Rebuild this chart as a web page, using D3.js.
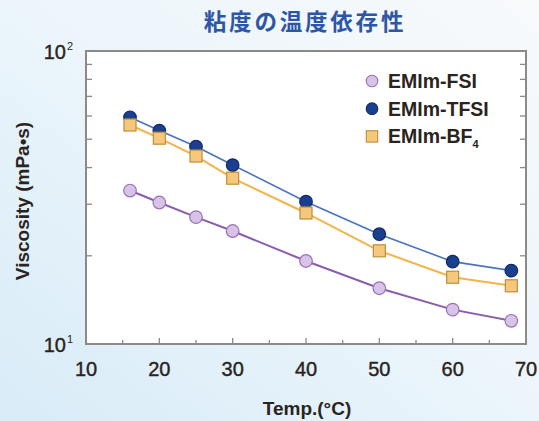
<!DOCTYPE html>
<html><head><meta charset="utf-8">
<script src="https://cdn.jsdelivr.net/npm/d3@7"></script>
<style>body{margin:0;background:#fff}svg{display:block}</style>
</head><body>
<svg id="c" width="539" height="421"></svg>
<script>
// ---- data ----
const temps = [16, 20, 25, 30, 40, 50, 60, 68];
const fsi   = [33.4, 30.4, 27.1, 24.3, 19.2, 15.5, 13.1, 12.0];
const tfsi  = [59.4, 53.5, 47.2, 40.8, 30.6, 23.7, 19.1, 17.8];
const bf4   = [55.9, 50.4, 43.8, 36.8, 28.0, 20.8, 16.9, 15.8];
const seriesNames = ["EMIm-FSI", "EMIm-TFSI", "EMIm-BF"];
const xTicks = [10, 20, 30, 40, 50, 60, 70];
const xMinorTicks = [15, 25, 35, 45, 55, 65];
const yMajor = [10, 100];
const yMinor = [20, 30, 40, 50, 60, 70, 80, 90];
const title = "粘度の温度依存性";
const xLabel = "Temp.(°C)";
const yLabel = "Viscosity (mPa•s)";

const svg = d3.select("#c");
const W = 539, H = 421;
const L = 86, R = 526, T = 51, B = 344;

// background gradient
const defs = svg.append("defs");
const g = defs.append("linearGradient").attr("id","bg").attr("x1","0").attr("y1","1").attr("x2","1").attr("y2","0");
g.append("stop").attr("offset","0").attr("stop-color","#d8ebf7");
g.append("stop").attr("offset","0.5").attr("stop-color","#ebf5fb");
g.append("stop").attr("offset","1").attr("stop-color","#f8fafc");
svg.append("rect").attr("width",W).attr("height",H).attr("fill","url(#bg)");

const x = d3.scaleLinear().domain([10,70]).range([L,R]);
const y = d3.scaleLog().domain([10,100]).range([B,T]);

// plot area
svg.append("rect").attr("x",L).attr("y",T).attr("width",R-L).attr("height",B-T).attr("fill","#fff");

const font = "'Liberation Sans', Arial, Helvetica, sans-serif";
const textCol = "#2a2420";
const axisCol = "#8e8984";

// ticks
const tk = svg.append("g").attr("stroke",axisCol).attr("stroke-width",1.3);
xTicks.slice(1,-1).forEach(t=>{ tk.append("line").attr("x1",x(t)).attr("x2",x(t)).attr("y1",B).attr("y2",B-6); });
xMinorTicks.forEach(t=>{ tk.append("line").attr("x1",x(t)).attr("x2",x(t)).attr("y1",B).attr("y2",B-4); });
yMinor.forEach(v=>{
  tk.append("line").attr("x1",L).attr("x2",L+6).attr("y1",y(v)).attr("y2",y(v));
  tk.append("line").attr("x1",R).attr("x2",R-6).attr("y1",y(v)).attr("y2",y(v));
});

// border
svg.append("rect").attr("x",L).attr("y",T).attr("width",R-L).attr("height",B-T)
  .attr("fill","none").attr("stroke",axisCol).attr("stroke-width",2);

// x tick labels
svg.append("g").selectAll("text").data(xTicks).join("text")
  .attr("x",d=>x(d)).attr("y",B+32).attr("text-anchor","middle")
  .attr("font-family",font).attr("font-size",20).attr("fill",textCol)
  .attr("stroke",textCol).attr("stroke-width",0.4)
  .text(d=>d);

// y tick labels (10^n)
yMajor.forEach(v=>{
  const e = Math.round(Math.log10(v));
  svg.append("text").attr("x",L-20).attr("y",y(v)+8).attr("text-anchor","end")
    .attr("font-family",font).attr("font-size",20).attr("fill",textCol)
    .attr("stroke",textCol).attr("stroke-width",0.4).text("10");
  svg.append("text").attr("x",L-19).attr("y",y(v)-1).attr("text-anchor","start")
    .attr("font-family",font).attr("font-size",11).attr("fill",textCol).text(e);
});

// title
svg.append("text").attr("x",305).attr("y",30).attr("text-anchor","middle")
  .attr("font-family","'Noto Sans CJK JP', sans-serif").attr("font-weight","bold")
  .attr("font-size",22.5).attr("letter-spacing",2.8).attr("fill","#2d56a6").text(title);

// axis labels
svg.append("text").attr("x",307).attr("y",415).attr("text-anchor","middle")
  .attr("font-family",font).attr("font-weight","bold").attr("font-size",19).attr("fill",textCol).text(xLabel);
svg.append("text").attr("transform","translate(29,201) rotate(-90)").attr("text-anchor","middle")
  .attr("font-family",font).attr("font-weight","bold").attr("font-size",19).attr("fill",textCol).text(yLabel);

// series
const series = [
  {name:seriesNames[0], vals:fsi, line:"#8a5cae", fill:"#d7c3e5", stroke:"#9a70ba", shape:"circle", lw:2},
  {name:seriesNames[1], vals:tfsi, line:"#4a72c2", fill:"#1b3f8f", stroke:"#10296a", shape:"circle", lw:1.6},
  {name:seriesNames[2], vals:bf4, line:"#f2b34a", fill:"#f5c87c", stroke:"#bf8d3c", shape:"square", lw:2}
];
const lineGen = d3.line().x(d=>x(d[0])).y(d=>y(d[1]));
series.forEach(s=>{
  const pts = temps.map((t,i)=>[t,s.vals[i]]);
  svg.append("path").datum(pts).attr("d",lineGen).attr("fill","none").attr("stroke",s.line).attr("stroke-width",s.lw);
});
series.forEach(s=>{
  const pts = temps.map((t,i)=>[t,s.vals[i]]);
  const gg = svg.append("g");
  if(s.shape==="circle"){
    gg.selectAll("circle").data(pts).join("circle").attr("cx",d=>x(d[0])).attr("cy",d=>y(d[1])).attr("r",6.3)
      .attr("fill",s.fill).attr("stroke",s.stroke).attr("stroke-width",1.2);
  } else {
    gg.selectAll("rect").data(pts).join("rect").attr("x",d=>x(d[0])-6).attr("y",d=>y(d[1])-6).attr("width",12).attr("height",12)
      .attr("fill",s.fill).attr("stroke",s.stroke).attr("stroke-width",1.2);
  }
});

// legend
series.forEach((s,i)=>{
  const ly = 81 + i*27.7;
  if(s.shape==="circle"){
    svg.append("circle").attr("cx",372).attr("cy",ly).attr("r",5.8).attr("fill",s.fill).attr("stroke",s.stroke).attr("stroke-width",1.1);
  } else {
    svg.append("rect").attr("x",366.3).attr("y",ly-5.7).attr("width",11.4).attr("height",11.4).attr("fill",s.fill).attr("stroke",s.stroke).attr("stroke-width",1.1);
  }
  const t = svg.append("text").attr("x",388).attr("y",ly+7).attr("font-family",font).attr("font-weight","bold")
    .attr("font-size",19.5).attr("fill",textCol).text(s.name);
  if(i===2){ t.append("tspan").attr("font-size",11).attr("dy",5).text("4"); }
});
</script>
</body></html>
